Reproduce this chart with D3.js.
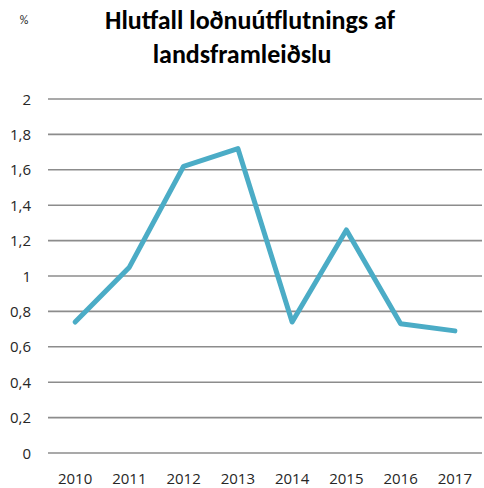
<!DOCTYPE html>
<html>
<head>
<meta charset="utf-8">
<script src="https://cdn.jsdelivr.net/npm/d3@7"></script>
<style>
  body { margin: 0; background: #fff; }
  text { font-family: Carlito, Lato, "Open Sans", sans-serif; }
  .tick { font-family: "Open Sans", sans-serif; }
</style>
</head>
<body>
<svg id="chart" width="484" height="488"></svg>
<script>
const years = ["2010", "2011", "2012", "2013", "2014", "2015", "2016", "2017"];
const values = [0.74, 1.05, 1.62, 1.72, 0.74, 1.26, 0.73, 0.69];
const yTicks = [0, 0.2, 0.4, 0.6, 0.8, 1, 1.2, 1.4, 1.6, 1.8, 2];
const titleLines = ["Hlutfall loðnuútflutnings af", "landsframleiðslu"];

const svg = d3.select("#chart");
const plotLeft = 48, plotRight = 482, plotTop = 99, plotBottom = 453;

const x = d3.scaleBand().domain(years).range([plotLeft, plotRight]);
const y = d3.scaleLinear().domain([0, 2]).range([plotBottom, plotTop]);

// gridlines
svg.append("g")
  .selectAll("line")
  .data(yTicks)
  .join("line")
    .attr("x1", plotLeft)
    .attr("x2", plotRight)
    .attr("y1", d => y(d))
    .attr("y2", d => y(d))
    .attr("stroke", "#8c8c8c")
    .attr("stroke-width", 1.6);

// y labels
svg.append("g")
  .style("font-size", "15px")
  .attr("text-anchor", "end")
  .selectAll("text")
  .data(yTicks)
  .join("text")
    .attr("class", "tick")
    .attr("x", 31)
    .attr("y", d => y(d) + 5.5)
    .attr("fill", "#262626")
    .text(d => d3.format("")(d).replace(".", ","));

// x labels
svg.append("g")
  .style("font-size", "15px")
  .attr("text-anchor", "middle")
  .selectAll("text")
  .data(years)
  .join("text")
    .attr("class", "tick")
    .attr("x", d => x(d) + x.bandwidth() / 2)
    .attr("y", 484)
    .attr("fill", "#262626")
    .text(d => d);

const line = d3.line()
  .x((d, i) => x(years[i]) + x.bandwidth() / 2)
  .y(d => y(d));

svg.append("path")
  .datum(values)
  .attr("d", line)
  .attr("fill", "none")
  .attr("stroke", "#4bacc6")
  .attr("stroke-width", 5)
  .attr("stroke-linecap", "round")
  .attr("stroke-linejoin", "round");

// title
svg.append("g")
  .attr("text-anchor", "middle")
  .style("font-size", "26px")
  .style("font-weight", "bold")
  .selectAll("text")
  .data(titleLines)
  .join("text")
    .attr("x", (d, i) => i === 0 ? 250 : 242)
    .attr("y", (d, i) => 29 + i * 34)
    .attr("fill", "#000")
    .text(d => d);

svg.append("text")
  .attr("x", 24)
  .attr("y", 24)
  .attr("text-anchor", "middle")
  .style("font-size", "12px")
  .attr("fill", "#262626")
  .text("%");
</script>
</body>
</html>
